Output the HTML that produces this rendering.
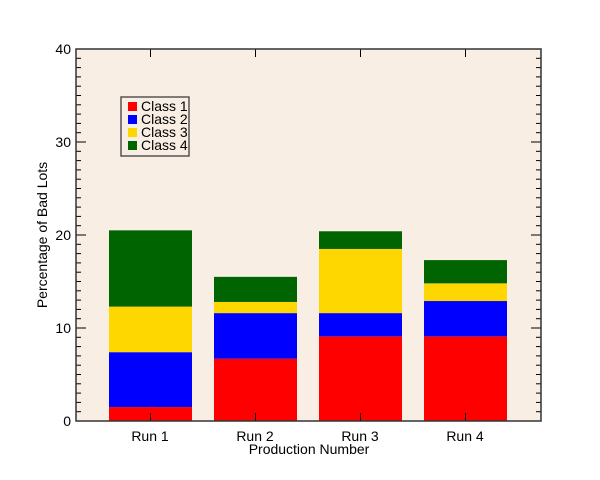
<!DOCTYPE html>
<html><head><style>body{margin:0;background:#fff}svg{display:block}text{font-family:"Liberation Sans",sans-serif;fill:#000}</style></head>
<body><svg id="s" width="600" height="480" xmlns="http://www.w3.org/2000/svg">
<rect x="76" y="49" width="465" height="372" fill="#f8eee4"/>
<g id="bars"></g><g id="ticks" stroke="#000" stroke-width="1"></g>
<rect x="76" y="49" width="465" height="372" fill="none" stroke="#333" stroke-width="1.5"/>
<g font-size="14" text-anchor="end">
<text x="71" y="426">0</text><text x="71" y="333">10</text><text x="71" y="240">20</text><text x="71" y="147">30</text><text x="71" y="54">40</text></g>
<g font-size="14" text-anchor="middle">
<text x="150" y="441">Run 1</text><text x="255" y="441">Run 2</text><text x="360" y="441">Run 3</text><text x="465" y="441">Run 4</text>
<text x="309" y="454">Production Number</text>
<text transform="translate(47,235) rotate(-90)">Percentage of Bad Lots</text></g>
<rect x="121" y="97" width="68" height="59" fill="none" stroke="#555" stroke-width="1.5"/>
<g font-size="14">
<rect x="128" y="102" width="9" height="9" fill="#ff0000"/><text x="141" y="111">Class 1</text>
<rect x="128" y="115" width="9" height="9" fill="#0000ff"/><text x="141" y="124">Class 2</text>
<rect x="128" y="128" width="9" height="9" fill="#ffd700"/><text x="141" y="137">Class 3</text>
<rect x="128" y="141" width="9" height="9" fill="#006400"/><text x="141" y="150">Class 4</text></g>
</svg>
<script>
var ns="http://www.w3.org/2000/svg",b=document.getElementById("bars"),t=document.getElementById("ticks");
function y(v){return 421-9.3*v}
var d=[[1.5,7.4,12.3,20.5],[6.7,11.6,12.8,15.5],[9.1,11.6,18.5,20.4],[9.1,12.9,14.8,17.3]],c=["#ff0000","#0000ff","#ffd700","#006400"];
d.forEach(function(r,i){var x=109+105*i,p=0;r.forEach(function(v,j){var e=document.createElementNS(ns,"rect");e.setAttribute("x",x);e.setAttribute("width",83);e.setAttribute("y",y(v));e.setAttribute("height",y(p)-y(v));e.setAttribute("fill",c[j]);b.appendChild(e);p=v;});});
function L(a,b2,c2,d2){var e=document.createElementNS(ns,"line");e.setAttribute("x1",a);e.setAttribute("y1",b2);e.setAttribute("x2",c2);e.setAttribute("y2",d2);t.appendChild(e);}
for(var v=0;v<=40;v++){var yy=y(v),l=v%10==0?10:5;L(76,yy,76+l,yy);L(541,yy,541-l,yy);}
for(var i=0;i<4;i++){var x=150.5+105*i;L(x,421,x,413);L(x,49,x,57);}
</script></body></html>
